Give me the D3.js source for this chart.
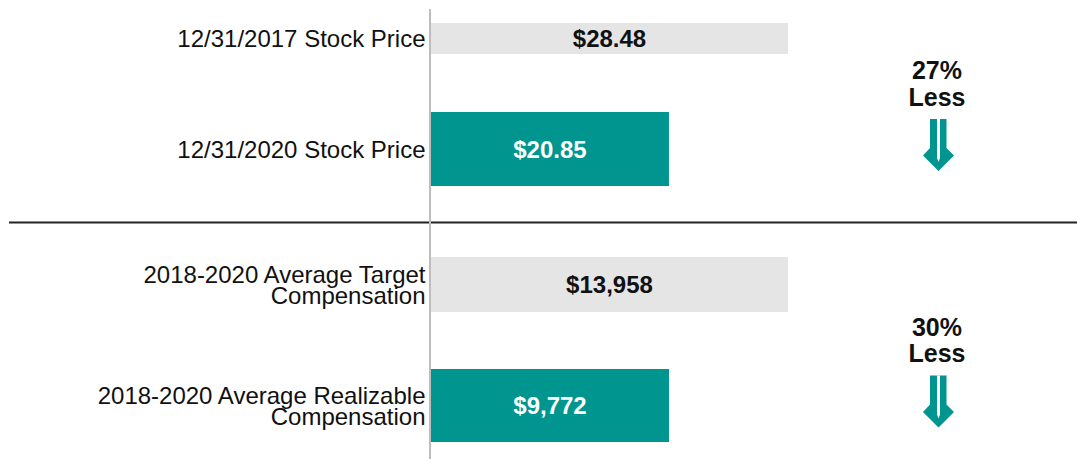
<!DOCTYPE html>
<html>
<head>
<meta charset="utf-8">
<script src="https://cdn.jsdelivr.net/npm/d3@7"></script>
<style>
  body { margin: 0; background: #fff; }
  svg { display: block; font-family: "Liberation Sans", Arial, sans-serif; }
  .cat-label { font-size: 24px; fill: #111; }
  .val-label { font-size: 24px; font-weight: bold; }
  .note { font-size: 25px; font-weight: bold; fill: #111; }
</style>
</head>
<body>
<svg id="chart"></svg>
<script>
// panel 1 - stock price
const stockLabels = [['12/31/2017 Stock Price'], ['12/31/2020 Stock Price']];
const stockValues = [28.48, 20.85];
const stockText = ['$28.48', '$20.85'];
// panel 2 - compensation
const compLabels = [['2018-2020 Average Target', 'Compensation'], ['2018-2020 Average Realizable', 'Compensation']];
const compValues = [13958, 9772];
const compText = ['$13,958', '$9,772'];
// change annotations
const changeText = ['27%', '30%'];

const config = {
    width: 1077,
    height: 459,
    baseX: 431,
    endX: 788,
    axisX: 430,
    // axis floors make the bars read like the original (truncated)
    floors: [5.6, 1400],
    rowY: [[38.5, 149], [284.5, 405.5]],
    barH: [[31, 74], [55, 73]],
    colors: ['#e5e5e5', '#00968f'],
    textColors: ['#111', '#fff'],
    noteX: 937,
    sepY: 222.5
};

const svg = d3.select('#chart').attr('width', config.width).attr('height', config.height);

const panels = [
    { labels: stockLabels, values: stockValues, text: stockText, change: changeText[0] },
    { labels: compLabels, values: compValues, text: compText, change: changeText[1] }
];

panels.forEach((p, pi) => {
    const xScale = d3.scaleLinear()
        .domain([config.floors[pi], d3.max(p.values)])
        .range([config.baseX, config.endX]);
    const yScale = d3.scalePoint()
        .domain(d3.range(p.values.length))
        .range(config.rowY[pi]);

    const rows = p.values.map((v, i) => ({ v: v, i: i, label: p.labels[i], text: p.text[i] }));
    const g = svg.append('g').attr('class', 'panel');

    g.selectAll('rect').data(rows).enter().append('rect')
        .attr('x', config.baseX)
        .attr('y', d => yScale(d.i) - config.barH[pi][d.i] / 2)
        .attr('width', d => xScale(d.v) - config.baseX)
        .attr('height', d => config.barH[pi][d.i])
        .attr('fill', d => config.colors[d.i]);

    g.selectAll('text.val-label').data(rows).enter().append('text')
        .attr('class', 'val-label')
        .attr('x', d => (config.baseX + xScale(d.v)) / 2)
        .attr('y', d => yScale(d.i) + 8.5)
        .attr('text-anchor', 'middle')
        .attr('fill', d => config.textColors[d.i])
        .text(d => d.text);

    const lab = g.selectAll('text.cat-label').data(rows).enter().append('text')
        .attr('class', 'cat-label')
        .attr('text-anchor', 'end');
    lab.selectAll('tspan').data(d => d.label.map((t, k) => ({ t: t, k: k, n: d.label.length, y: yScale(d.i) })))
        .enter().append('tspan')
        .attr('x', 425.5)
        .attr('y', d => d.y + 8.8 + (d.k - (d.n - 1) / 2) * 21.5)
        .text(d => d.t);

    // percentage note + arrow, placed relative to the second bar
    const cy = yScale(1);
    g.append('text').attr('class', 'note').attr('x', config.noteX).attr('y', cy - 70)
        .attr('text-anchor', 'middle').text(p.change);
    g.append('text').attr('class', 'note').attr('x', config.noteX).attr('y', cy - 43.5)
        .attr('text-anchor', 'middle').text('Less');

    const ax = config.noteX + 1.5, ay = cy - 30;
    const arrow = g.append('g').attr('transform', `translate(${ax},${ay})`);
    arrow.append('path')
        .attr('d', 'M-8.5,0 L8,0 L8,29 L15.5,36.5 L0,52 L-15.5,36.5 L-8.5,29 Z')
        .attr('fill', config.colors[1]);
    arrow.append('path')
        .attr('d', 'M-1.5,0 L1.5,0 L1.5,39 L0,43 L-1.5,39 Z')
        .attr('fill', '#fff');
});

// separator between the two panels
svg.append('line')
    .attr('x1', 9).attr('x2', config.width)
    .attr('y1', config.sepY).attr('y2', config.sepY)
    .attr('stroke', '#222').attr('stroke-width', 2);

// baseline axis
svg.append('line')
    .attr('x1', config.axisX).attr('x2', config.axisX)
    .attr('y1', 9).attr('y2', config.height)
    .attr('stroke', '#bdbdbd').attr('stroke-width', 2);
</script>
</body>
</html>
